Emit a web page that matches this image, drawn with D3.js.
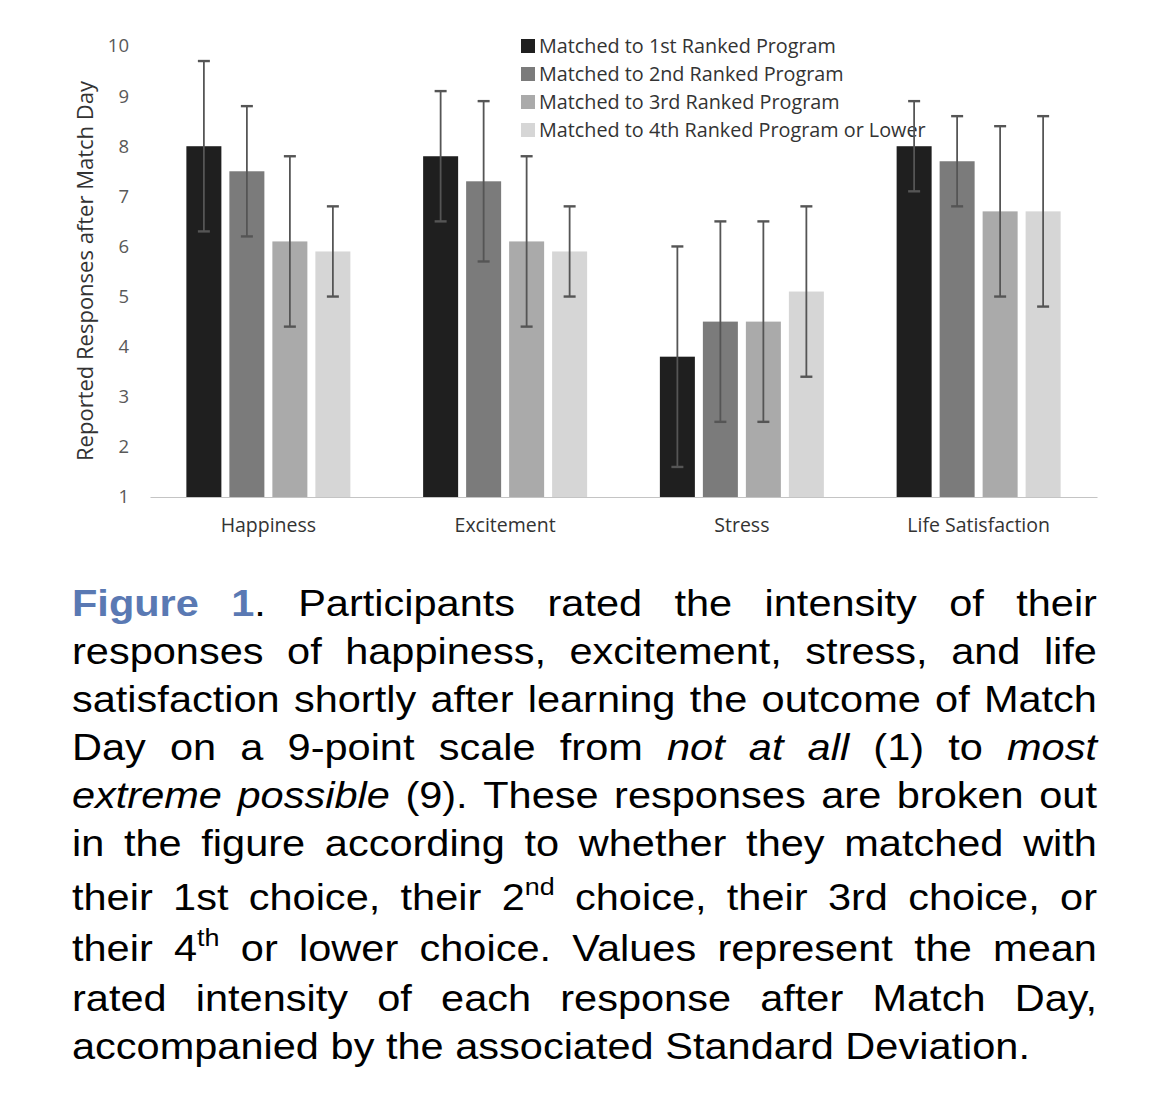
<!DOCTYPE html>
<html>
<head>
<meta charset="utf-8">
<script src="https://cdn.jsdelivr.net/npm/d3@7"></script>
<style>
  body { margin: 0; background: #fff; }
</style>
</head>
<body>
<div id="chart"></div>
<script>
// chart values
var categories = ["Happiness", "Excitement", "Stress", "Life Satisfaction"];
var seriesNames = [
  "Matched to 1st Ranked Program",
  "Matched to 2nd Ranked Program",
  "Matched to 3rd Ranked Program",
  "Matched to 4th Ranked Program or Lower"
];
var mean1st = [8.0, 7.8, 3.8, 8.0];
var mean2nd = [7.5, 7.3, 4.5, 7.7];
var mean3rd = [6.1, 6.1, 4.5, 6.7];
var mean4th = [5.9, 5.9, 5.1, 6.7];
// error bar ends (mean - SD, mean + SD)
var low1st = [6.3, 6.5, 1.6, 7.1];
var high1st = [9.7, 9.1, 6.0, 8.9];
var low2nd = [6.2, 5.7, 2.5, 6.8];
var high2nd = [8.8, 8.9, 6.5, 8.6];
var low3rd = [4.4, 4.4, 2.5, 5.0];
var high3rd = [7.8, 7.8, 6.5, 8.4];
var low4th = [5.0, 5.0, 3.4, 4.8];
var high4th = [6.8, 6.8, 6.8, 8.6];
var yTicks = [1, 2, 3, 4, 5, 6, 7, 8, 9, 10];
var yTitle = "Reported Responses after Match Day";

// caption: [..] = blue bold, _.._ = italic, ^.. = superscript
var captionLines = [
  "[Figure] [1]. Participants rated the intensity of their",
  "responses of happiness, excitement, stress, and life",
  "satisfaction shortly after learning the outcome of Match",
  "Day on a 9-point scale from _not_ _at_ _all_ (1) to _most_",
  "_extreme_ _possible_ (9). These responses are broken out",
  "in the figure according to whether they matched with",
  "their 1st choice, their 2^nd choice, their 3rd choice, or",
  "their 4^th or lower choice. Values represent the mean",
  "rated intensity of each response after Match Day,",
  "accompanied by the associated Standard Deviation."
];
var captionBaselines = [616, 664, 712, 760, 808, 856, 910, 961, 1011, 1059];

var svgWidth = 1170;
var svgHeight = 1107;
var colors = ["#1f1f1f", "#7b7b7b", "#aaaaaa", "#d6d6d6"];
var chartFont = "'Open Sans', 'DejaVu Sans', sans-serif";

var plot = { left: 150, right: 1097, top: 46, bottom: 497 };

var svg = d3.select("#chart")
  .append("svg")
  .attr("width", svgWidth)
  .attr("height", svgHeight);

svg.append("rect")
  .attr("width", svgWidth)
  .attr("height", svgHeight)
  .attr("fill", "#fff");

// scales
var x0 = d3.scaleBand()
  .domain(categories)
  .range([plot.left, plot.right]);

var x1 = d3.scaleBand()
  .domain(d3.range(seriesNames.length))
  .range([0, x0.bandwidth()])
  .paddingInner(0.186)
  .paddingOuter(0.846);

var y = d3.scaleLinear()
  .domain([1, 10])
  .range([plot.bottom, plot.top]);

// y axis (labels only)
var yAxis = svg.append("g")
  .attr("transform", "translate(129,0)")
  .call(d3.axisLeft(y).tickValues(yTicks).tickSize(0).tickPadding(0));
yAxis.select(".domain").remove();
yAxis.attr("font-family", chartFont).attr("font-size", 18.5);
yAxis.selectAll("text").attr("fill", "#595959");

// x axis
var xAxis = svg.append("g")
  .attr("transform", `translate(0, ${plot.bottom})`)
  .call(d3.axisBottom(x0).tickSize(0).tickPadding(21));
xAxis.select(".domain").attr("stroke", "#c4c4c4").attr("stroke-width", 1.2);
xAxis.attr("font-family", chartFont).attr("font-size", 19.5);
xAxis.selectAll("text").attr("fill", "#333");

// y title
svg.append("text")
  .attr("transform", "translate(93,271) rotate(-90)")
  .attr("text-anchor", "middle")
  .attr("font-family", chartFont)
  .attr("font-size", 22)
  .attr("fill", "#333")
  .text(yTitle);

// bars
var means = [mean1st, mean2nd, mean3rd, mean4th];
var lows = [low1st, low2nd, low3rd, low4th];
var highs = [high1st, high2nd, high3rd, high4th];

var rows = [];
categories.forEach(function(c, i) {
  seriesNames.forEach(function(s, j) {
    rows.push({ cat: c, j: j, mean: means[j][i], lo: lows[j][i], hi: highs[j][i] });
  });
});

var bars = svg.append("g").selectAll("rect")
  .data(rows)
  .enter()
  .append("rect")
  .attr("x", d => x0(d.cat) + x1(d.j))
  .attr("y", d => y(d.mean))
  .attr("width", x1.bandwidth())
  .attr("height", d => y(1) - y(d.mean))
  .attr("fill", d => colors[d.j]);

// legend
var legend = svg.append("g")
  .attr("transform", "translate(521,46)");

var legendItems = legend.selectAll("g")
  .data(seriesNames)
  .enter()
  .append("g")
  .attr("transform", (d, i) => `translate(0, ${i * 28})`);

legendItems.append("rect")
  .attr("x", 0)
  .attr("y", -7)
  .attr("width", 14)
  .attr("height", 14)
  .attr("fill", (d, i) => colors[i]);

legendItems.append("text")
  .attr("x", 18)
  .attr("dy", "0.35em")
  .attr("font-family", chartFont)
  .attr("font-size", 19.8)
  .attr("fill", "#333")
  .text(d => d);

// error bars
var errGroup = svg.append("g")
  .attr("stroke", "#555")
  .attr("stroke-width", 1.8);

var errs = errGroup.selectAll("g")
  .data(rows)
  .enter()
  .append("g")
  .attr("transform", d => `translate(${x0(d.cat) + x1(d.j) + x1.bandwidth() / 2},0)`);

errs.append("line")
  .attr("y1", d => y(d.lo))
  .attr("y2", d => y(d.hi));
errs.append("line")
  .attr("x1", -6).attr("x2", 6)
  .attr("y1", d => y(d.hi)).attr("y2", d => y(d.hi))
  .attr("stroke-width", 2.4);
errs.append("line")
  .attr("x1", -6).attr("x2", 6)
  .attr("y1", d => y(d.lo)).attr("y2", d => y(d.lo))
  .attr("stroke-width", 2.4);

// caption, justified line by line
var capFont = "'Liberation Sans', Arial, Helvetica, sans-serif";
var capSize = 37;
var capLeft = 72, capRight = 1097, lastLineWidth = 958;

function parseWord(w) {
  var segs = [];
  var re = /\[([^\]]+)\]|_([^_]+)_|\^(\w+)|([^\[_\^]+)/g;
  var m;
  while ((m = re.exec(w)) !== null) {
    if (m[1]) segs.push({ t: m[1], k: "fig" });
    else if (m[2]) segs.push({ t: m[2], k: "it" });
    else if (m[3]) segs.push({ t: m[3], k: "sup" });
    else segs.push({ t: m[4], k: "n" });
  }
  return segs;
}

var capGroup = svg.append("g")
  .attr("font-family", capFont)
  .attr("font-size", capSize)
  .attr("fill", "#000");

// measure space
var probe = capGroup.append("text").text("x x");
var probe2 = capGroup.append("text").text("xx");
var spaceW = probe.node().getComputedTextLength() - probe2.node().getComputedTextLength();
probe.remove(); probe2.remove();

var lineData = captionLines.map(function(line, li) {
  var g = capGroup.append("g");
  var words = line.split(" ").map(function(w) {
    var t = g.append("text").attr("y", captionBaselines[li]);
    parseWord(w).forEach(function(s) {
      var ts = t.append("tspan").text(s.t);
      if (s.k === "fig") ts.attr("fill", "#5a79b3").attr("font-weight", "bold");
      if (s.k === "it") ts.attr("font-style", "italic");
      if (s.k === "sup") ts.attr("font-size", 24).attr("dy", -15);
    });
    return { el: t, w: t.node().getComputedTextLength() };
  });
  return { g: g, words: words };
});

// horizontal stretch so the last line matches its width in the figure
var last = lineData[lineData.length - 1];
var natural = d3.sum(last.words, d => d.w) + spaceW * (last.words.length - 1);
var sx = lastLineWidth / natural;
var fullW = (capRight - capLeft) / sx;

lineData.forEach(function(ld, li) {
  ld.g.attr("transform", `translate(${capLeft},0) scale(${sx},1)`);
  var total = d3.sum(ld.words, d => d.w);
  var gap = li === lineData.length - 1 ? spaceW : (fullW - total) / (ld.words.length - 1);
  var xpos = 0;
  ld.words.forEach(function(wd) {
    wd.el.attr("x", xpos);
    xpos += wd.w + gap;
  });
});
</script>
</body>
</html>
